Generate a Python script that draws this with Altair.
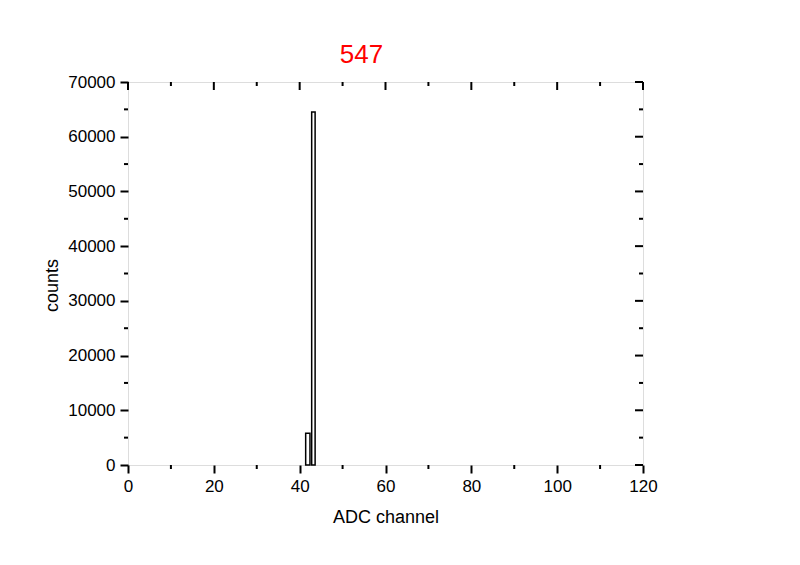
import altair as alt
import pandas as pd

# Histogram bins
bin_left = [41.4, 42.8]
bin_right = [42.4, 43.6]
counts = [5800, 64500]

x_major = [0, 20, 40, 60, 80, 100, 120]
x_minor = [10, 30, 50, 70, 90, 110]
y_major = [0, 10000, 20000, 30000, 40000, 50000, 60000, 70000]
y_minor = [5000, 15000, 25000, 35000, 45000, 55000, 65000]

W, H = 515, 383
FONT = "Liberation Sans"

bars_df = pd.DataFrame({"x0": bin_left, "x1": bin_right, "c": counts, "b": [0] * len(counts)})
xmaj_df = pd.DataFrame({"v": x_major})
xmin_df = pd.DataFrame({"v": x_minor})
ymaj_df = pd.DataFrame({"v": y_major})
ymin_df = pd.DataFrame({"v": y_minor})

xscale = alt.Scale(domain=[0, 120], nice=False, zero=False)
yscale = alt.Scale(domain=[0, 70000], nice=False)

bars = alt.Chart(bars_df).mark_rect(fill="white", stroke="black", strokeWidth=1.5).encode(
    x=alt.X("x0:Q", scale=xscale,
            axis=alt.Axis(values=x_major, title="ADC channel", tickSize=8, tickWidth=2,
                          tickColor="black", domain=False, grid=False, labelFlush=False,
                          labelFont=FONT, labelFontSize=17, labelColor="black", labelPadding=5,
                          titleFont=FONT, titleFontSize=18, titleFontWeight="normal",
                          titleColor="black", titleY=57, titleBaseline="alphabetic")),
    x2="x1:Q",
    y=alt.Y("c:Q", scale=yscale,
            axis=alt.Axis(values=y_major, title="counts", format="d", tickSize=8, tickWidth=2,
                          tickColor="black", domain=False, grid=False, labelFlush=False,
                          labelFont=FONT, labelFontSize=17, labelColor="black", labelPadding=5,
                          titleFont=FONT, titleFontSize=18, titleFontWeight="normal",
                          titleColor="black", titleX=-71, titleY=203,
                          titleBaseline="alphabetic", titleAngle=270)),
    y2="b:Q",
)

tick_style = dict(color="black", strokeWidth=2)

bottom_minor = alt.Chart(xmin_df).mark_rule(**tick_style).encode(
    x=alt.X("v:Q", scale=xscale), y=alt.value(H), y2=alt.value(H + 4))
top_major = alt.Chart(xmaj_df).mark_rule(**tick_style).encode(
    x=alt.X("v:Q", scale=xscale), y=alt.value(0), y2=alt.value(8))
top_minor = alt.Chart(xmin_df).mark_rule(**tick_style).encode(
    x=alt.X("v:Q", scale=xscale), y=alt.value(0), y2=alt.value(4))
left_minor = alt.Chart(ymin_df).mark_rule(**tick_style).encode(
    y=alt.Y("v:Q", scale=yscale), x=alt.value(0), x2=alt.value(-4))
right_major = alt.Chart(ymaj_df).mark_rule(**tick_style).encode(
    y=alt.Y("v:Q", scale=yscale), x=alt.value(W - 8), x2=alt.value(W))
right_minor = alt.Chart(ymin_df).mark_rule(**tick_style).encode(
    y=alt.Y("v:Q", scale=yscale), x=alt.value(W - 4), x2=alt.value(W))

chart = alt.layer(
    bars, bottom_minor, top_major, top_minor, left_minor, right_major, right_minor
).properties(
    width=W, height=H,
    autosize=alt.AutoSizeParams(type="none"),
    padding={"left": 120, "top": 74, "right": 140, "bottom": 80},
    title=alt.TitleParams(text="547", color="#FF0000", font=FONT, fontSize=26,
                          fontWeight="normal", anchor="middle", dx=-24, dy=34,
                          offset=18, baseline="alphabetic"),
).configure_view(
    stroke="black", strokeWidth=2
).configure(background="white")

chart.save("out.html", embed_options={"renderer": "svg", "actions": False})
